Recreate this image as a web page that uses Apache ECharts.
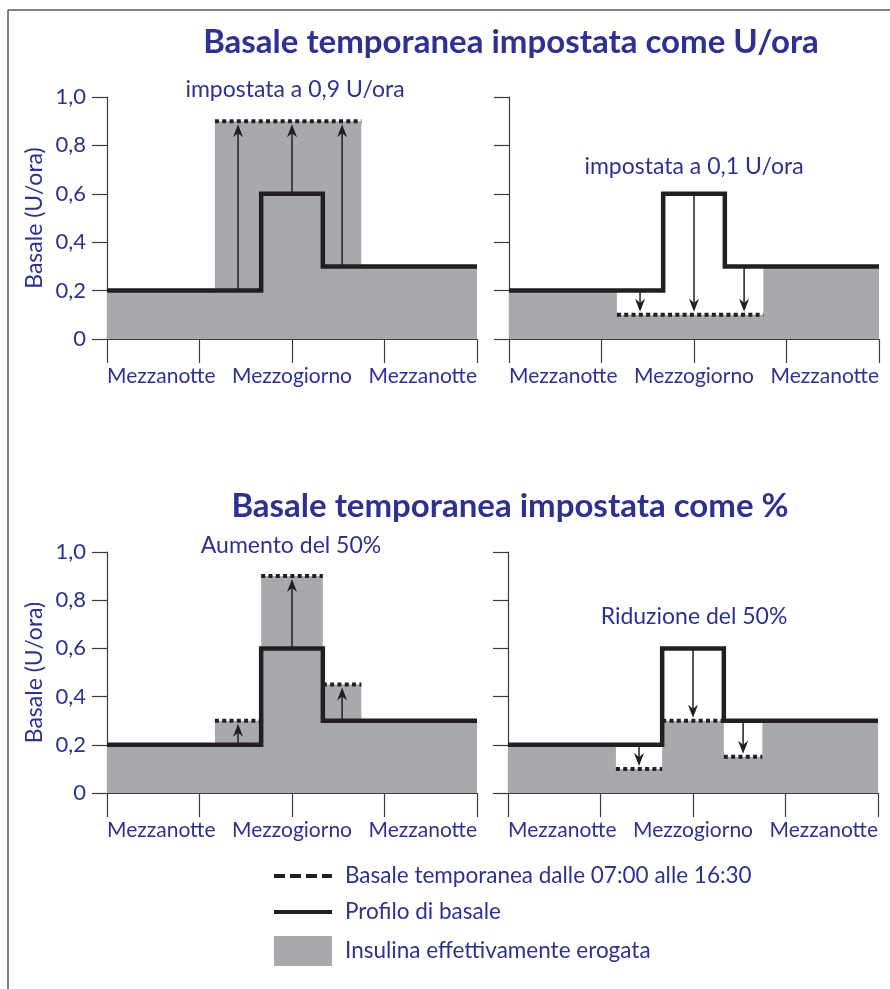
<!DOCTYPE html>
<html>
<head>
<meta charset="utf-8">
<script src="https://cdn.jsdelivr.net/npm/echarts@6/dist/echarts.min.js"></script>
<style>
  html, body { margin: 0; padding: 0; background: #fff; }
  #chart { width: 890px; height: 989px; }
</style>
</head>
<body>
<div id="chart"></div>
<script>
// x = ore del giorno, y = basale (U/ora)
const xTicks = [0, 6, 12, 18, 24];
const xTickLabels = ['Mezzanotte', '', 'Mezzogiorno', '', 'Mezzanotte'];
const yTickLabels = ['0', '0,2', '0,4', '0,6', '0,8', '1,0'];

// profilo di basale (uguale nei 4 pannelli)
const profileHours = [0, 10, 14, 24];
const profileRates = [0.2, 0.6, 0.3, 0.3];

// insulina effettivamente erogata
const deliveredHoursAbs = [0, 7, 16.5, 24];
const deliveredUpAbs = [0.2, 0.9, 0.3, 0.3];
const deliveredDownAbs = [0.2, 0.1, 0.3, 0.3];
const deliveredHoursPct = [0, 7, 10, 14, 16.5, 24];
const deliveredUpPct = [0.2, 0.3, 0.9, 0.45, 0.3, 0.3];
const deliveredDownPct = [0.2, 0.1, 0.3, 0.15, 0.3, 0.3];

// basale temporanea dalle 07:00 alle 16:30
const tempStartAbs = [7];
const tempEndAbs = [16.5];
const tempUpAbs = [0.9];
const tempDownAbs = [0.1];
const tempStartPct = [7, 10, 14];
const tempEndPct = [10, 14, 16.5];
const tempUpPct = [0.3, 0.9, 0.45];
const tempDownPct = [0.1, 0.3, 0.15];

// frecce: dal profilo alla basale temporanea
const arrowHours = [8.5, 12, 15.25];
const arrowFrom = [0.2, 0.6, 0.3];
const arrowToUpAbs = [0.9, 0.9, 0.9];
const arrowToDownAbs = [0.1, 0.1, 0.1];
const arrowToUpPct = [0.3, 0.9, 0.45];
const arrowToDownPct = [0.1, 0.3, 0.15];

const tempName = 'Basale temporanea dalle 07:00 alle 16:30';
const profileName = 'Profilo di basale';
const deliveredName = 'Insulina effettivamente erogata';

const BLUE = '#2e3192';
const INK = '#231f20';
const GRAY = '#a7a9ac';
const FONT = 'Lato';

const panels = [
  { grid: { left: 107, top: 97, width: 370, height: 242 }, hours: deliveredHoursAbs, delivered: deliveredUpAbs,
    tStart: tempStartAbs, tEnd: tempEndAbs, tRate: tempUpAbs, arrowTo: arrowToUpAbs, showY: true },
  { grid: { left: 509, top: 97, width: 370, height: 242 }, hours: deliveredHoursAbs, delivered: deliveredDownAbs,
    tStart: tempStartAbs, tEnd: tempEndAbs, tRate: tempDownAbs, arrowTo: arrowToDownAbs, showY: false },
  { grid: { left: 107, top: 552, width: 370, height: 241 }, hours: deliveredHoursPct, delivered: deliveredUpPct,
    tStart: tempStartPct, tEnd: tempEndPct, tRate: tempUpPct, arrowTo: arrowToUpPct, showY: true },
  { grid: { left: 508, top: 552, width: 370, height: 241 }, hours: deliveredHoursPct, delivered: deliveredDownPct,
    tStart: tempStartPct, tEnd: tempEndPct, tRate: tempDownPct, arrowTo: arrowToDownPct, showY: false },
];

const pairs = (xs, ys) => xs.map((x, k) => [x, ys[k]]);

function tempData(starts, ends, rates) {
  const out = [];
  starts.forEach((s, k) => {
    if (k > 0) out.push([s, '-']);
    out.push([s, rates[k]], [ends[k], rates[k]]);
  });
  return out;
}

function renderArrow(params, api) {
  const a = api.coord([api.value(0), api.value(1)]);
  const b = api.coord([api.value(0), api.value(2)]);
  const dir = b[1] < a[1] ? -1 : 1;
  const x = a[0];
  const tip = b[1] - dir * 3;
  const headL = 13, headW = 5, notch = 9;
  return {
    type: 'group',
    children: [
      { type: 'line', shape: { x1: x, y1: a[1], x2: x, y2: tip - dir * notch },
        style: { stroke: INK, lineWidth: 1.5 } },
      { type: 'polygon',
        shape: { points: [[x, tip], [x - headW, tip - dir * headL], [x, tip - dir * notch], [x + headW, tip - dir * headL]] },
        style: { fill: INK } },
    ],
  };
}

const axisLineStyle = { color: '#3c3c3c', width: 1.2 };

const grid = [], xAxis = [], yAxis = [], series = [];
panels.forEach((p, i) => {
  grid.push(Object.assign({ outerBoundsMode: 'none', containLabel: false }, p.grid));
  xAxis.push({
    gridIndex: i, type: 'value', min: 0, max: 24, interval: 6,
    axisLine: { show: true, lineStyle: axisLineStyle },
    axisTick: { show: true, length: 24, lineStyle: axisLineStyle },
    axisLabel: {
      margin: 27, color: BLUE, fontSize: 21, fontFamily: FONT,
      alignMinLabel: 'left', alignMaxLabel: 'right', showMinLabel: true, showMaxLabel: true,
      formatter: v => xTickLabels[xTicks.indexOf(v)] || '',
    },
    splitLine: { show: false },
  });
  yAxis.push({
    gridIndex: i, type: 'value', min: 0, max: 1, interval: 0.2,
    name: p.showY ? 'Basale (U/ora)' : '', nameLocation: 'middle', nameGap: 61, nameRotate: 90,
    nameTextStyle: { color: BLUE, fontSize: 23, fontFamily: FONT },
    axisLine: { show: true, lineStyle: axisLineStyle },
    axisTick: { show: true, length: 15, lineStyle: axisLineStyle },
    axisLabel: {
      show: p.showY, margin: 21, color: BLUE, fontSize: 22, fontFamily: FONT,
      formatter: v => yTickLabels[Math.round(v / 0.2)],
    },
    splitLine: { show: false },
  });
  series.push(
    {
      name: deliveredName, type: 'line', xAxisIndex: i, yAxisIndex: i, step: 'end', symbol: 'none',
      data: pairs(p.hours, p.delivered), color: GRAY,
      lineStyle: { width: 0 }, areaStyle: { color: GRAY, opacity: 1 }, z: 1, silent: true,
    },
    {
      name: tempName, type: 'line', xAxisIndex: i, yAxisIndex: i, symbol: 'none',
      data: tempData(p.tStart, p.tEnd, p.tRate), color: INK, connectNulls: false,
      lineStyle: { color: INK, width: 4, type: [4, 3.3] }, z: 3, silent: true,
    },
    {
      type: 'custom', xAxisIndex: i, yAxisIndex: i, z: 4, silent: true,
      data: arrowHours.map((h, k) => [h, arrowFrom[k], p.arrowTo[k]]),
      renderItem: renderArrow,
    },
    {
      name: profileName, type: 'line', xAxisIndex: i, yAxisIndex: i, step: 'end', symbol: 'none',
      data: pairs(profileHours, profileRates), color: INK,
      lineStyle: { color: INK, width: 4.5, join: 'miter', cap: 'butt' }, z: 5, silent: true,
    }
  );
});

const headStyle = { fontFamily: FONT, fontWeight: 'bold', fontSize: 33, color: BLUE };
const noteStyle = { fontFamily: FONT, fontWeight: 'normal', fontSize: 23, color: BLUE };
const title = [
  { text: 'Basale temporanea impostata come U/ora', left: 511, top: 42, textStyle: headStyle },
  { text: 'Basale temporanea impostata come %', left: 510, top: 506, textStyle: headStyle },
  { text: 'impostata a 0,9 U/ora', left: 295, top: 90, textStyle: noteStyle },
  { text: 'impostata a 0,1 U/ora', left: 694, top: 167, textStyle: noteStyle },
  { text: 'Aumento del 50%', left: 291, top: 546, textStyle: noteStyle },
  { text: 'Riduzione del 50%', left: 694, top: 617, textStyle: noteStyle },
].map(t => Object.assign({ textAlign: 'center', textVerticalAlign: 'middle', padding: 0 }, t));

const chart = echarts.init(document.getElementById('chart'), null, { renderer: 'canvas' });
chart.setOption({
  backgroundColor: '#fff',
  animation: false,
  title,
  grid, xAxis, yAxis, series,
  legend: {
    orient: 'vertical', left: 272, top: 864, itemWidth: 58, itemHeight: 30, itemGap: 12,
    selectedMode: false, padding: 0,
    textStyle: { color: BLUE, fontSize: 22.5, fontFamily: FONT, padding: [0, 0, 0, 8] },
    data: [
      { name: tempName, lineStyle: { type: [11, 5], width: 4, color: INK }, itemStyle: { opacity: 0 } },
      { name: profileName, lineStyle: { width: 4, color: INK }, itemStyle: { opacity: 0 } },
      { name: deliveredName, icon: 'rect', itemStyle: { color: GRAY } },
    ],
  },
  graphic: [
    { type: 'line', silent: true, shape: { x1: 8, y1: 10, x2: 8, y2: 989 }, style: { stroke: '#58595b', lineWidth: 1.5 } },
    { type: 'line', silent: true, shape: { x1: 8, y1: 10, x2: 890, y2: 10 }, style: { stroke: '#58595b', lineWidth: 1.5 } },
  ],
});
</script>
</body>
</html>
